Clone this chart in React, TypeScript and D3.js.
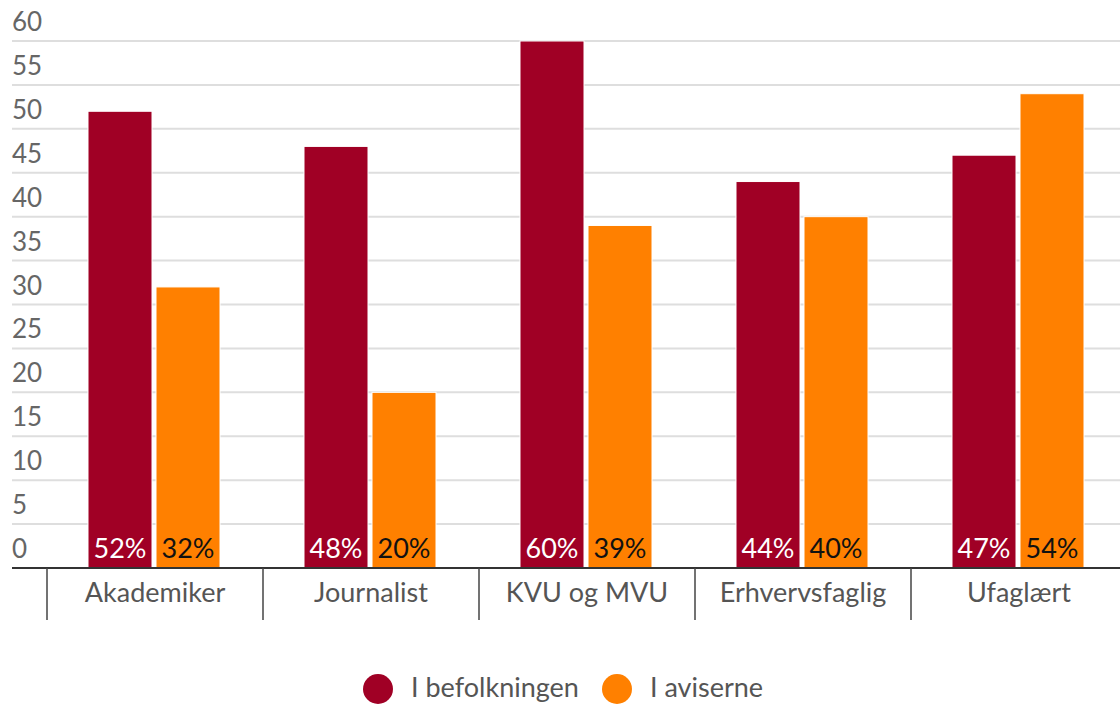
import React from 'react';
import * as d3 from 'd3';

const categories = ['Akademiker', 'Journalist', 'KVU og MVU', 'Erhvervsfaglig', 'Ufaglært'];
const seriesNames = ['I befolkningen', 'I aviserne'];
const befolkningen = [52, 48, 60, 44, 47];
const aviserne = [32, 20, 39, 40, 54];
const yTicks = [0, 5, 10, 15, 20, 25, 30, 35, 40, 45, 50, 55, 60];

const colors = ['#a00025', '#ff8000'];
const labelColors = ['#ffffff', '#111111'];
const font = 'Lato, "Open Sans", sans-serif';

const W = 1120;
const H = 704;

const App = () => {
  const y = d3.scaleLinear().domain([0, 60]).range([568, 41]);
  const x = d3.scaleBand<string>().domain(categories).range([47, 1127]).padding(0);
  const inner = d3.scaleBand<number>().domain([0, 1]).range([41, 173]).paddingInner(4 / 68);
  const series = [befolkningen, aviserne];

  return (
    <svg width={W} height={H} style={{ position: 'absolute', left: 0, top: 0, background: '#fff' }}>
      {/* gridlines + y labels */}
      {yTicks.map(t => (
        <g key={t}>
          {t > 0 && <line x1={12} x2={W} y1={y(t)} y2={y(t)} stroke="#dedede" strokeWidth={2} />}
          <text x={12} y={y(t) - 10} fontFamily={font} fontSize={26} fill="#666">{t}</text>
        </g>
      ))}

      {/* bars */}
      {categories.map((c, i) => (
        <g key={c} transform={`translate(${x(c)},0)`}>
          {series.map((s, k) => (
            <g key={k}>
              <rect
                x={inner(k)}
                y={y(s[i])}
                width={inner.bandwidth()}
                height={y(0) - y(s[i])}
                fill={colors[k]}
                stroke="#fff"
                strokeWidth={1}
              />
              <text
                x={(inner(k) as number) + inner.bandwidth() / 2}
                y={y(0) - 10}
                textAnchor="middle"
                fontFamily={font}
                fontSize={27}
                fill={labelColors[k]}
              >{s[i]}%</text>
            </g>
          ))}
        </g>
      ))}

      {/* x axis */}
      <line x1={12} x2={W} y1={568} y2={568} stroke="#333" strokeWidth={2} />
      {d3.range(categories.length + 1).map(i => {
        const xx = 47 + i * x.step();
        return <line key={i} x1={xx} x2={xx} y1={568} y2={620} stroke="#444" strokeWidth={1.5} />;
      })}
      {categories.map(c => (
        <text
          key={c}
          x={(x(c) as number) + x.bandwidth() / 2}
          y={602}
          textAnchor="middle"
          fontFamily={font}
          fontSize={27}
          fill="#555"
        >{c}</text>
      ))}

      {/* legend */}
      {seriesNames.map((n, k) => {
        const lx = k === 0 ? 378 : 617;
        return (
          <g key={n}>
            <circle cx={lx} cy={689} r={15} fill={colors[k]} />
            <text x={lx + 33} y={697} fontFamily={font} fontSize={27} fill="#555">{n}</text>
          </g>
        );
      })}
    </svg>
  );
};

export default App;
